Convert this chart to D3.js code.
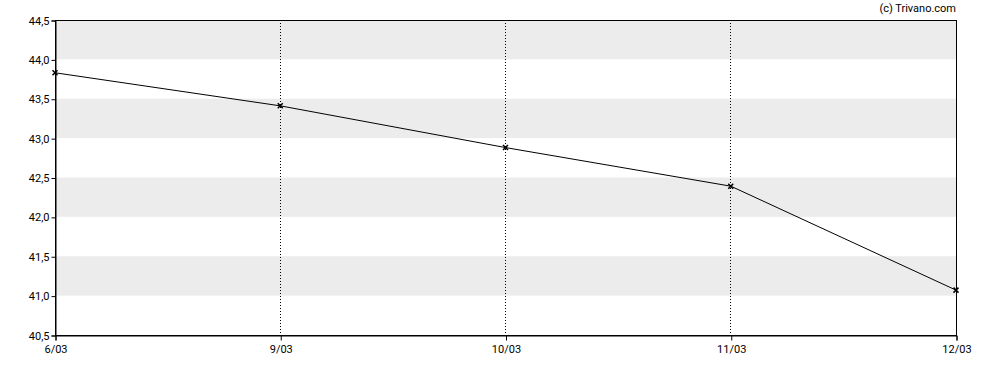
<!DOCTYPE html>
<html><head><meta charset="utf-8">
<script src="https://cdn.jsdelivr.net/npm/d3@7"></script>
<style>body{margin:0;background:#fff;}svg{display:block;font-family:Roboto,sans-serif;}</style>
</head><body>
<script>
const categories = ["6/03","9/03","10/03","11/03","12/03"];
const values = [43.83, 43.41, 42.88, 42.39, 41.07];
const yTicks = [40.5,41.0,41.5,42.0,42.5,43.0,43.5,44.0,44.5];
const bands = [[41.0,41.5],[42.0,42.5],[43.0,43.5],[44.0,44.5]];

const W=988,H=370, m={l:55,r:32,t:20,b:35};
const svg=d3.select("body").append("svg").attr("width",W).attr("height",H);
const x=d3.scalePoint().domain(categories).range([m.l,W-m.r]);
const y=d3.scaleLinear().domain([40.5,44.5]).range([H-m.b,m.t]);
const fmt=d=>d.toFixed(1).replace(".",",");

svg.selectAll("rect.band").data(bands).enter().append("rect")
 .attr("x",m.l).attr("width",W-m.r-m.l)
 .attr("y",d=>y(d[1])).attr("height",d=>y(d[0])-y(d[1])).attr("fill","#ececec");

svg.selectAll("line.vg").data(categories.slice(1,-1)).enter().append("line")
 .attr("x1",d=>x(d)).attr("x2",d=>x(d)).attr("y1",m.t).attr("y2",H-m.b)
 .attr("stroke","#000").attr("stroke-dasharray","1,2").attr("stroke-width",1).attr("shape-rendering","crispEdges");

svg.append("rect").attr("x",m.l+0.5).attr("y",m.t+0.5).attr("width",W-m.r-m.l).attr("height",H-m.b-m.t)
 .attr("fill","none").attr("stroke","#000");

const ya=svg.append("g").attr("transform",`translate(${m.l+0.5},0.5)`)
 .call(d3.axisLeft(y).tickValues(yTicks).tickFormat(fmt).tickSize(4).tickPadding(2));
const xa=svg.append("g").attr("transform",`translate(0.5,${H-m.b+0.5})`)
 .call(d3.axisBottom(x).tickSize(5).tickPadding(3));
[ya,xa].forEach(g=>{g.selectAll("text").attr("font-size","11px").attr("fill","#000").attr("font-family","Roboto,sans-serif");g.select(".domain").attr("stroke","#000");g.selectAll("line").attr("stroke","#000");});
xa.selectAll("text").attr("dy","0.9em");

svg.append("path").datum(values.map((v,i)=>[x(categories[i]),y(v)]))
 .attr("d",d3.line()).attr("fill","none").attr("stroke","#000").attr("stroke-width",1);

const s=2.5;
svg.selectAll("path.mk").data(values).enter().append("path")
 .attr("d",(v,i)=>{const cx=x(categories[i]),cy=y(v);return `M${cx-s},${cy-s}L${cx+s},${cy+s}M${cx-s},${cy+s}L${cx+s},${cy-s}`;})
 .attr("stroke","#000").attr("stroke-width",1.5);

svg.append("text").attr("x",W-m.r).attr("y",12).attr("text-anchor","end")
 .attr("font-size","11px").attr("fill","#000").text("(c) Trivano.com");
</script>
</body></html>
